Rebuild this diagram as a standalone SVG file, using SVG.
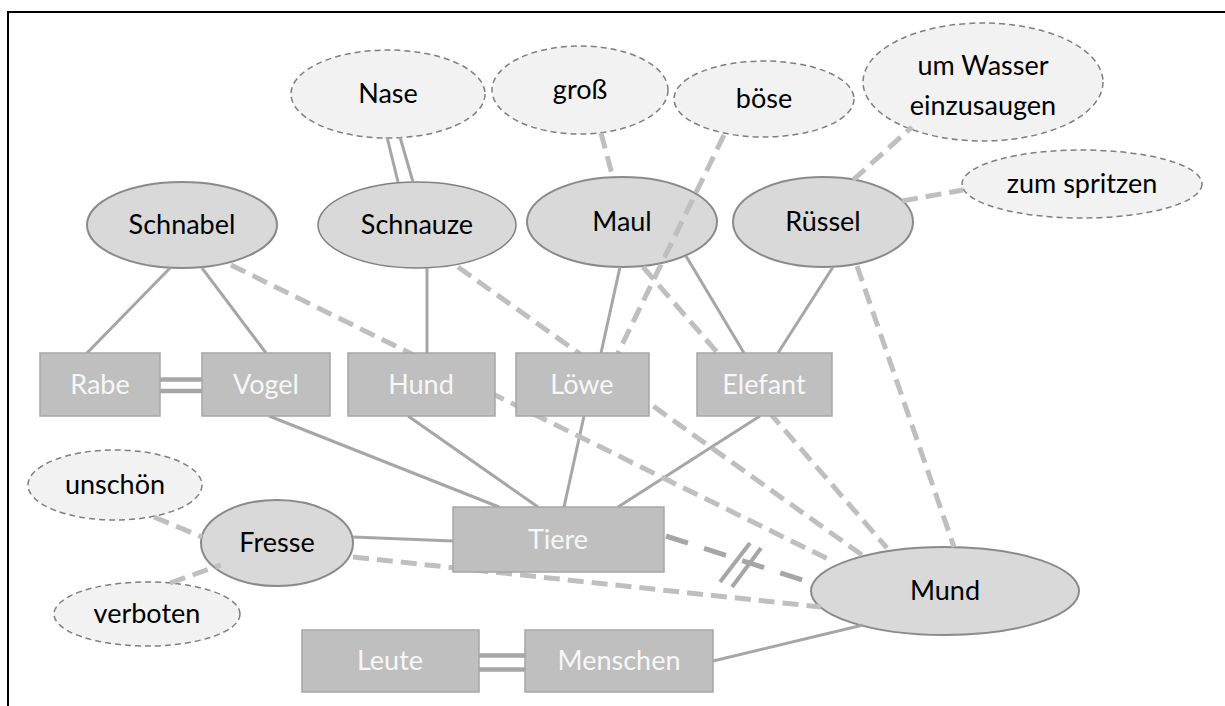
<svg xmlns="http://www.w3.org/2000/svg" width="1225" height="706" viewBox="0 0 1225 706">
<style>
  .frame { fill: none; stroke: #000; stroke-width: 2; }
  .ell { fill: #d9d9d9; stroke: #8a8a8a; stroke-width: 2; }
  .ell2 { fill: #d9d9d9; stroke: #808080; stroke-width: 1.5; }
  .att { fill: #f2f2f2; stroke: #7f7f7f; stroke-width: 1.5; stroke-dasharray: 6 4; }
  .box { fill: #bfbfbf; stroke: #a6a6a6; stroke-width: 1.5; }
  .t { font-family: Lato, "Open Sans", sans-serif; font-size: 27px; text-anchor: middle; fill: #000; }
  .tw { font-family: Lato, "Open Sans", sans-serif; font-size: 27px; text-anchor: middle; fill: #f7f7f7; }
  .s { stroke: #a6a6a6; stroke-width: 3; fill: none; }
  .d { stroke: #a6a6a6; stroke-width: 3; fill: none; }
  .d4 { stroke: #a6a6a6; stroke-width: 4.5; fill: none; }
  .dl { stroke: #bfbfbf; stroke-width: 5; stroke-dasharray: 16 8; fill: none; }
  .dd { stroke: #a6a6a6; stroke-width: 5; stroke-dasharray: 23 17; fill: none; }
  .sl { stroke: #a6a6a6; stroke-width: 4; fill: none; }
</style>
<rect class="frame" x="8" y="12" width="1230" height="710"/>

<g id="Nase"><ellipse class="att" cx="388" cy="94" rx="97" ry="44"/><text class="t" x="388" y="103">Nase</text></g>
<g id="gross"><ellipse class="att" cx="580" cy="90" rx="88" ry="44"/><text class="t" x="580" y="99">groß</text></g>
<g id="boese"><ellipse class="att" cx="764" cy="99" rx="90" ry="38"/><text class="t" x="764" y="108">böse</text></g>
<g id="Wasser"><ellipse class="att" cx="983" cy="82" rx="120" ry="59"/><text class="t" x="983" y="75">um Wasser</text><text class="t" x="983" y="115">einzusaugen</text></g>
<g id="spritzen"><ellipse class="att" cx="1082" cy="184" rx="120" ry="34"/><text class="t" x="1082" y="193">zum spritzen</text></g>
<g id="unschoen"><ellipse class="att" cx="115" cy="485" rx="87" ry="35"/><text class="t" x="115" y="494">unschön</text></g>
<g id="verboten"><ellipse class="att" cx="147" cy="614" rx="93" ry="32"/><text class="t" x="147" y="623">verboten</text></g>

<g id="Schnabel"><ellipse class="ell" cx="182" cy="225" rx="95" ry="43"/><text class="t" x="182" y="234">Schnabel</text></g>
<g id="Schnauze"><ellipse class="ell2" cx="417" cy="225" rx="99" ry="43"/><text class="t" x="417" y="234">Schnauze</text></g>
<g id="Maul"><ellipse class="ell" cx="622" cy="222" rx="95" ry="45"/><text class="t" x="622" y="231">Maul</text></g>
<g id="Ruessel"><ellipse class="ell" cx="823" cy="222" rx="90" ry="45"/><text class="t" x="823" y="231">Rüssel</text></g>
<g id="Fresse"><ellipse class="ell" cx="277" cy="543" rx="76" ry="43"/><text class="t" x="277" y="552">Fresse</text></g>
<g id="Mund"><ellipse class="ell" cx="945" cy="591" rx="134" ry="44"/><text class="t" x="945" y="600">Mund</text></g>

<g id="connectors">
  <line class="s" x1="170" y1="268" x2="87" y2="353"/>
  <line class="s" x1="202" y1="268" x2="266" y2="353"/>
  <line class="s" x1="427" y1="268" x2="427" y2="353"/>
  <line class="s" x1="620" y1="267" x2="601" y2="353"/>
  <line class="s" x1="686" y1="256" x2="744" y2="353"/>
  <line class="s" x1="833" y1="267" x2="778" y2="353"/>
  <line class="s" x1="269" y1="416" x2="499" y2="507"/>
  <line class="s" x1="408" y1="416" x2="538" y2="507"/>
  <line class="s" x1="584" y1="416" x2="564" y2="507"/>
  <line class="s" x1="760" y1="416" x2="618" y2="507"/>
  <line class="s" x1="353" y1="537" x2="453" y2="541"/>
  <line class="s" x1="713" y1="661" x2="863" y2="625"/>

  <line class="d" x1="387" y1="137" x2="398" y2="182"/>
  <line class="d" x1="400" y1="137" x2="413" y2="182"/>
  <line class="d4" x1="160" y1="379.5" x2="202" y2="379.5"/>
  <line class="d4" x1="160" y1="391" x2="202" y2="391"/>
  <line class="d4" x1="479" y1="655.5" x2="525" y2="655.5"/>
  <line class="d4" x1="479" y1="669.5" x2="525" y2="669.5"/>

  <line class="dl" x1="231" y1="265" x2="830" y2="560"/>
  <line class="dl" x1="458" y1="267" x2="862" y2="555"/>
  <line class="dl" x1="643" y1="267" x2="887" y2="548"/>
  <line class="dl" x1="857" y1="266" x2="954" y2="547"/>
  <line class="dl" x1="353" y1="557" x2="821" y2="607"/>
  <line class="dl" x1="601" y1="133" x2="613" y2="178"/>
  <line class="dl" x1="724" y1="135" x2="618" y2="353"/>
  <line class="dl" x1="853" y1="180" x2="912" y2="127"/>
  <line class="dl" x1="902" y1="201" x2="963" y2="190"/>
  <line class="dl" x1="154" y1="517" x2="202" y2="537"/>
  <line class="dl" x1="170" y1="583" x2="221" y2="565"/>

  <line class="dd" x1="666" y1="536" x2="812" y2="583"/>
  <line class="sl" x1="720" y1="582" x2="750" y2="543"/>
  <line class="sl" x1="732" y1="587" x2="761" y2="548"/>
</g>

<g id="Rabe"><rect class="box" x="40" y="353" width="120" height="63"/><text class="tw" x="100" y="394">Rabe</text></g>
<g id="Vogel"><rect class="box" x="202" y="353" width="128" height="63"/><text class="tw" x="266" y="394">Vogel</text></g>
<g id="Hund"><rect class="box" x="348" y="353" width="147" height="63"/><text class="tw" x="421" y="394">Hund</text></g>
<g id="Loewe"><rect class="box" x="516" y="353" width="133" height="63"/><text class="tw" x="582" y="394">Löwe</text></g>
<g id="Elefant"><rect class="box" x="697" y="353" width="135" height="63"/><text class="tw" x="764" y="394">Elefant</text></g>
<g id="Tiere"><rect class="box" x="453" y="507" width="211" height="65"/><text class="tw" x="558" y="549">Tiere</text></g>
<g id="Leute"><rect class="box" x="302" y="630" width="177" height="62"/><text class="tw" x="390" y="670">Leute</text></g>
<g id="Menschen"><rect class="box" x="525" y="630" width="188" height="62"/><text class="tw" x="619" y="670">Menschen</text></g>
</svg>
